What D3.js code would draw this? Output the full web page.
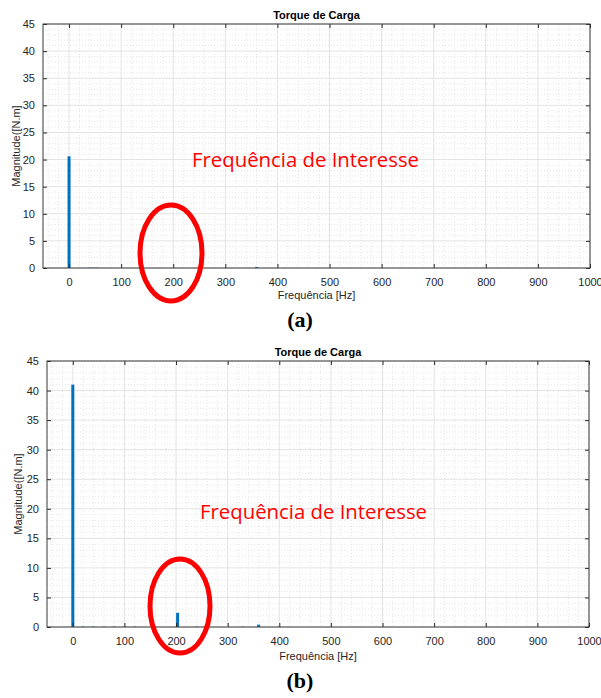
<!DOCTYPE html>
<html>
<head>
<meta charset="utf-8">
<script src="https://cdn.jsdelivr.net/npm/d3@7"></script>
<style>
  body { margin: 0; background: #fff; }
  svg { display: block; }
</style>
</head>
<body>
<svg id="fig" width="601" height="698"></svg>
<script>
// spectrum (a)
const freqA = [0, 38, 46, 54, 360];
const magA = [20.6, 0.06, 0.05, 0.06, 0.2];
// spectrum (b)
const freqB = [0, 20, 40, 60, 80, 100, 120, 203, 240, 330, 360, 400];
const magB = [41, 0.05, 0.05, 0.05, 0.05, 0.05, 0.05, 2.4, 0.05, 0.05, 0.4, 0.05];

const xTicks = [0, 100, 200, 300, 400, 500, 600, 700, 800, 900, 1000];
const yTicks = [0, 5, 10, 15, 20, 25, 30, 35, 40, 45];

const title = "Torque de Carga";
const xLabel = "Frequência [Hz]";
const yLabel = "Magnitude([N.m]";
const note = "Frequência de Interesse";

const svg = d3.select("#fig");

function drawPanel(opt) {
  const { left, right, top, bottom, freq, mag } = opt;
  const x = d3.scaleLinear().domain([-50, 1000]).range([left, right]);
  const y = d3.scaleLinear().domain([0, 45]).range([bottom, top]);
  const g = svg.append("g");

  // minor grid
  const xMinor = d3.range(-40, 1000, 20).filter(v => v % 100 !== 0);
  const yMinor = d3.range(1, 45, 1).filter(v => v % 5 !== 0);
  g.selectAll(".xm").data(xMinor).enter().append("line")
    .attr("x1", d => x(d)).attr("x2", d => x(d))
    .attr("y1", top).attr("y2", bottom)
    .style("stroke", "#e0e0e0").style("stroke-dasharray", "1,2").style("stroke-width", 0.8);
  g.selectAll(".ym").data(yMinor).enter().append("line")
    .attr("x1", left).attr("x2", right)
    .attr("y1", d => y(d)).attr("y2", d => y(d))
    .style("stroke", "#e0e0e0").style("stroke-dasharray", "1,2").style("stroke-width", 0.8);

  // major grid
  g.selectAll(".xg").data(xTicks).enter().append("line")
    .attr("x1", d => x(d)).attr("x2", d => x(d))
    .attr("y1", top).attr("y2", bottom)
    .style("stroke", "#e3e3e3");
  g.selectAll(".yg").data(yTicks).enter().append("line")
    .attr("x1", left).attr("x2", right)
    .attr("y1", d => y(d)).attr("y2", d => y(d))
    .style("stroke", "#e3e3e3");

  // bars
  g.selectAll(".bar").data(freq).enter().append("rect")
    .attr("x", d => x(d) - 1.5)
    .attr("width", 3)
    .attr("y", (d, i) => y(mag[i]))
    .attr("height", (d, i) => bottom - y(mag[i]))
    .style("fill", "#0072BD");

  // axes (MATLAB style, ticks inward)
  const axB = g.append("g").attr("transform", `translate(0,${bottom})`)
    .call(d3.axisBottom(x).tickValues(xTicks).tickFormat(d3.format("d")).tickSize(-4).tickPadding(10).tickSizeOuter(0));
  const axT = g.append("g").attr("transform", `translate(0,${top})`)
    .call(d3.axisTop(x).tickValues(xTicks).tickSize(-4).tickFormat("").tickSizeOuter(0));
  const axL = g.append("g").attr("transform", `translate(${left},0)`)
    .call(d3.axisLeft(y).tickValues(yTicks).tickSize(-4).tickPadding(8).tickSizeOuter(0));
  const axR = g.append("g").attr("transform", `translate(${right},0)`)
    .call(d3.axisRight(y).tickValues(yTicks).tickSize(-4).tickFormat("").tickSizeOuter(0));
  [axB, axT, axL, axR].forEach(a => {
    a.selectAll("path").remove();
    a.selectAll("line").style("stroke", "#262626");
    a.selectAll("text").style("fill", "#262626")
      .style("font-family", "'Liberation Sans', Arial, sans-serif").style("font-size", "11px");
  });
  g.append("rect")
    .attr("x", left).attr("y", top)
    .attr("width", right - left).attr("height", bottom - top)
    .style("fill", "none").style("stroke", "#3a3a3a").style("stroke-width", 1);

  // title and labels
  const mid = (left + right) / 2;
  g.append("text").attr("x", mid).attr("y", top - 5)
    .attr("text-anchor", "middle")
    .style("font-family", "'Liberation Sans', Arial, sans-serif")
    .style("font-size", "11px").style("font-weight", "bold").style("fill", "#000")
    .text(title);
  g.append("text").attr("x", mid).attr("y", opt.xLabelY)
    .attr("text-anchor", "middle")
    .style("font-family", "'Liberation Sans', Arial, sans-serif")
    .style("font-size", "11px").style("fill", "#262626")
    .text(xLabel);
  g.append("text")
    .attr("transform", `translate(${opt.yLabelX},${(top + bottom) / 2}) rotate(-90)`)
    .attr("text-anchor", "middle")
    .style("font-family", "'Liberation Sans', Arial, sans-serif")
    .style("font-size", "11px").style("fill", "#262626")
    .text(yLabel);

  // annotation
  g.append("text").attr("x", opt.noteX).attr("y", opt.noteY)
    .attr("textLength", 227).attr("lengthAdjust", "spacingAndGlyphs")
    .style("font-family", "'Open Sans', 'DejaVu Sans', sans-serif")
    .style("font-size", "20px").style("fill", "#ff0000")
    .text(note);
  g.append("ellipse")
    .attr("cx", opt.ell[0]).attr("cy", opt.ell[1])
    .attr("rx", opt.ell[2]).attr("ry", opt.ell[3])
    .style("fill", "none").style("stroke", "#ff0000").style("stroke-width", 5);

  // panel letter
  g.append("text").attr("x", 300).attr("y", opt.letterY)
    .attr("text-anchor", "middle")
    .style("font-family", "'Liberation Serif', 'Times New Roman', serif")
    .style("font-size", "22px").style("font-weight", "bold").style("fill", "#000")
    .text(opt.letter);
}

drawPanel({
  left: 43, right: 590, top: 24, bottom: 268,
  freq: freqA, mag: magA,
  xLabelY: 299, yLabelX: 20,
  noteX: 192, noteY: 167,
  ell: [171, 253, 31, 48],
  letter: "(a)", letterY: 327
});

drawPanel({
  left: 47, right: 589, top: 361, bottom: 627,
  freq: freqB, mag: magB,
  xLabelY: 660, yLabelX: 22,
  noteX: 200, noteY: 519,
  ell: [180, 606, 30, 47],
  letter: "(b)", letterY: 688
});
</script>
</body>
</html>
